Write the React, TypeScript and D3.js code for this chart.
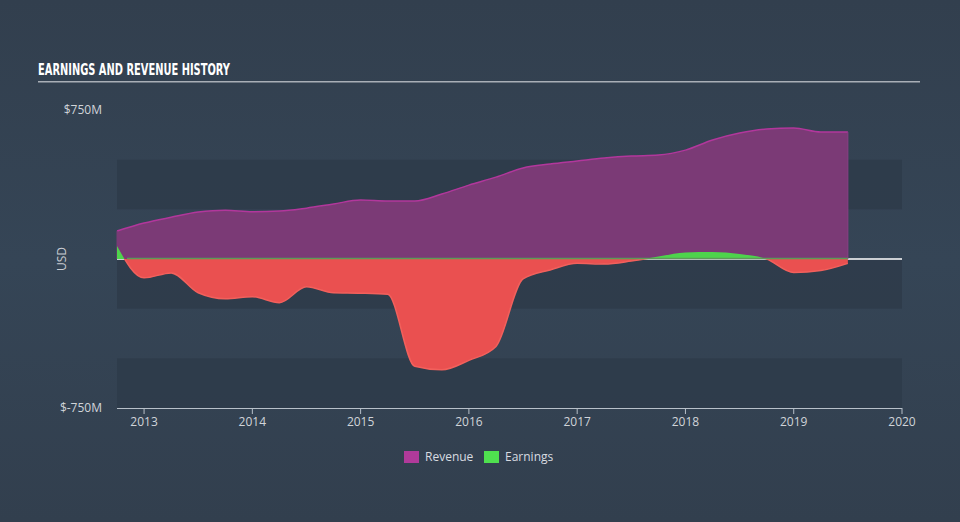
import React, { useEffect } from "react";
import * as d3 from "d3";

const quarters: number[] = [
  2012.75, 2013.0, 2013.25, 2013.5, 2013.75, 2014.0, 2014.25, 2014.5, 2014.75,
  2015.0, 2015.25, 2015.5, 2015.75, 2016.0, 2016.25, 2016.5, 2016.75, 2017.0,
  2017.25, 2017.5, 2017.75, 2018.0, 2018.25, 2018.5, 2018.75, 2019.0, 2019.25, 2019.5,
];
const revenue: number[] = [
  141, 181, 210, 236, 246, 238, 241, 256, 277, 297, 292, 292, 327, 372, 412, 458,
  478, 493, 508, 518, 523, 548, 599, 634, 654, 659, 639, 639,
];
const earnings: number[] = [
  65, -95, -70, -170, -200, -190, -220, -140, -170, -172, -178, -540, -558, -510,
  -440, -100, -55, -22, -25, -10, 12, 33, 35, 25, 0, -68, -58, -22,
];
const yearTicks: number[] = [2013, 2014, 2015, 2016, 2017, 2018, 2019, 2020];
const yLabels: number[] = [750, -750];
const bandRanges: [number, number][] = [
  [500, 250],
  [0, -250],
  [-500, -750],
];

const W = 960;
const H = 522;
const left = 117;
const right = 902;

export default function App() {
  useEffect(() => {
    document.body.style.margin = "0";
  }, []);

  const x = d3.scaleLinear().domain([2012.75, 2020]).range([left, right]);
  const y = d3.scaleLinear().domain([-750, 750]).range([408, 110]);

  const data = quarters.map((q, i) => ({ q, r: revenue[i], e: earnings[i] }));

  const revArea = d3
    .area<any>()
    .x((d) => x(d.q))
    .y0(y(0))
    .y1((d) => y(d.r))
    .curve(d3.curveMonotoneX);
  const revLine = d3
    .line<any>()
    .x((d) => x(d.q))
    .y((d) => y(d.r))
    .curve(d3.curveMonotoneX);
  const earnArea = d3
    .area<any>()
    .x((d) => x(d.q))
    .y0(y(0))
    .y1((d) => y(d.e))
    .curve(d3.curveMonotoneX);
  const earnLine = d3
    .line<any>()
    .x((d) => x(d.q))
    .y((d) => y(d.e))
    .curve(d3.curveMonotoneX);

  const x0 = x(quarters[0]);
  const x1 = x(quarters[quarters.length - 1]);
  const labelFont = "'Open Sans', 'Noto Sans', sans-serif";

  return (
    <div style={{ position: "absolute", left: 0, top: 0, width: W, height: H }}>
      <svg width={W} height={H} style={{ display: "block" }}>
        <defs>
          <clipPath id="posClip">
            <rect x={0} y={0} width={W} height={y(0)} />
          </clipPath>
          <clipPath id="negClip">
            <rect x={0} y={y(0)} width={W} height={H - y(0)} />
          </clipPath>
          <linearGradient id="bg" x1="0" x2="0" y1="0" y2="1">
            <stop offset="0" stopColor="#323f4e" />
            <stop offset="0.5" stopColor="#354556" />
            <stop offset="1" stopColor="#323f4e" />
          </linearGradient>
        </defs>
        <rect x={0} y={0} width={W} height={H} fill="url(#bg)" />
        {bandRanges.map(([a, b], i) => (
          <rect
            key={i}
            x={left}
            y={y(a)}
            width={right - left}
            height={y(b) - y(a)}
            fill="#2e3b4a"
            opacity={0.85}
          />
        ))}

        <text
          x={38}
          y={75}
          fill="#ffffff"
          fontFamily="'Liberation Sans Narrow', 'DejaVu Sans Condensed', sans-serif"
          fontWeight="bold"
          fontSize={15.5}
          textLength={192}
          lengthAdjust="spacingAndGlyphs"
        >
          EARNINGS AND REVENUE HISTORY
        </text>
        <rect x={38} y={81} width={882} height={1.5} fill="#a9afb7" />

        {yLabels.map((v) => (
          <text
            key={v}
            x={102}
            y={y(v)}
            dy="0.35em"
            textAnchor="end"
            fill="#d0d4d9"
            fontFamily={labelFont}
            fontSize={12}
          >
            {v < 0 ? `$-${Math.abs(v)}M` : `$${v}M`}
          </text>
        ))}
        <text
          transform={`translate(66,${y(0)}) rotate(-90)`}
          textAnchor="middle"
          fill="#c8ccd2"
          fontFamily={labelFont}
          fontSize={12}
        >
          USD
        </text>

        <line x1={left} x2={right} y1={y(0)} y2={y(0)} stroke="#ffffff" strokeWidth={1.5} />

        <path d={revArea(data) || ""} fill="#7b3a76" />
        <path d={revLine(data) || ""} fill="none" stroke="#b2379c" strokeWidth={1.5} />
        <line x1={x0} x2={x0} y1={y(0)} y2={y(revenue[0])} stroke="#7b3a76" />
        <line x1={x1} x2={x1} y1={y(0)} y2={y(revenue[revenue.length - 1])} stroke="#8a3f86" strokeWidth={1} />

        <g clipPath="url(#negClip)">
          <path d={earnArea(data) || ""} fill="#ea5050" />
          <path d={earnLine(data) || ""} fill="none" stroke="#f2605c" strokeWidth={1.5} />
        </g>
        <g clipPath="url(#posClip)">
          <path d={earnArea(data) || ""} fill="#4ed44c" />
        </g>
        <line x1={x0 + 10} x2={x1} y1={y(0) - 0.5} y2={y(0) - 0.5} stroke="#5c9a58" strokeWidth={1.5} />

        <line x1={left} x2={right} y1={408.5} y2={408.5} stroke="#b8c0c9" strokeWidth={1} />
        {yearTicks.map((t) => (
          <g key={t}>
            <line x1={x(t)} x2={x(t)} y1={408} y2={414} stroke="#b8c0c9" strokeWidth={1} />
            <text
              x={x(t)}
              y={426}
              textAnchor="middle"
              fill="#d0d4d9"
              fontFamily={labelFont}
              fontSize={12}
            >
              {t}
            </text>
          </g>
        ))}

        <rect x={404} y={451} width={15} height={12} fill="#b03a9a" />
        <text x={425} y={461} fill="#d8dce0" fontFamily={labelFont} fontSize={12}>
          Revenue
        </text>
        <rect x={484} y={451} width={15} height={12} fill="#4fe04f" />
        <text x={505} y={461} fill="#d8dce0" fontFamily={labelFont} fontSize={12}>
          Earnings
        </text>
      </svg>
    </div>
  );
}
